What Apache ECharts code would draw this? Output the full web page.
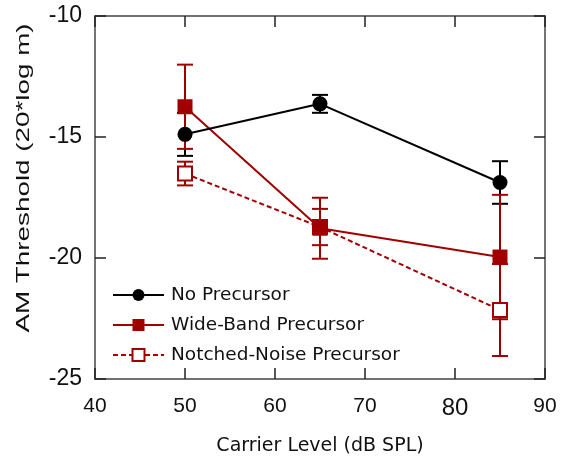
<!DOCTYPE html>
<html>
<head>
<meta charset="utf-8">
<script src="https://cdn.jsdelivr.net/npm/echarts@6/dist/echarts.min.js"></script>
<style>
  html, body { margin: 0; padding: 0; background: #fff; }
  #chart { width: 561px; height: 461px; }
</style>
</head>
<body>
<div id="chart"></div>
<script>
// Carrier levels (dB SPL)
const levels = [50, 65, 85];

// Mean AM thresholds (20*log m) and error half-widths per condition
const noPrecursor = [-14.89, -13.63, -16.88];
const noPrecursorErr = [0.89, 0.37, 0.88];

const wideBand = [-13.75, -18.77, -19.96];
const wideBandErr = [1.74, 1.26, 2.57];

const notchedNoise = [-16.51, -18.72, -22.15];
const notchedNoiseErr = [0.49, 0.75, 1.9];

const xTicks = [40, 50, 60, 70, 80, 90];
const yTicks = [-25, -20, -15, -10];

const BLACK = '#000000';
const RED = '#a00000';

function pairs(ys) {
  return levels.map((x, i) => [x, ys[i]]);
}
function errData(ys, errs) {
  return levels.map((x, i) => [x, ys[i] - errs[i], ys[i] + errs[i]]);
}

// Vertical error bar with caps, drawn through the axis scales
function errorBarSeries(name, ys, errs, color) {
  return {
    type: 'custom',
    name: name + ' err',
    data: errData(ys, errs),
    z: 1,
    silent: true,
    encode: { x: 0, y: [1, 2] },
    renderItem: function (params, api) {
      const x = api.value(0);
      const lo = api.coord([x, api.value(1)]);
      const hi = api.coord([x, api.value(2)]);
      const half = 8;
      const style = { stroke: color, lineWidth: 2, fill: null };
      return {
        type: 'group',
        children: [
          { type: 'line', shape: { x1: lo[0], y1: lo[1], x2: hi[0], y2: hi[1] }, style: style },
          { type: 'line', shape: { x1: lo[0] - half, y1: lo[1], x2: lo[0] + half, y2: lo[1] }, style: style },
          { type: 'line', shape: { x1: hi[0] - half, y1: hi[1], x2: hi[0] + half, y2: hi[1] }, style: style }
        ]
      };
    }
  };
}

const frameColor = '#444444';
const tickLine = { color: '#222', width: 1.5 };

const chart = echarts.init(document.getElementById('chart'), null, { renderer: 'canvas' });

chart.setOption({
  animation: false,
  backgroundColor: '#ffffff',
  grid: { left: 95, right: 16, top: 16, bottom: 80, containLabel: false },
  legend: {
    orient: 'vertical',
    left: 112,
    top: 285.5,
    padding: 0,
    itemWidth: 51,
    itemHeight: 15,
    itemGap: 11,
    textStyle: { fontFamily: 'DejaVu Sans', fontSize: 18.5, color: '#111', padding: [0, 0, 0, 2] },
    data: ['No Precursor', 'Wide-Band Precursor', 'Notched-Noise Precursor']
  },
  xAxis: [
    {
      type: 'value', min: 40, max: 90, interval: 10,
      axisLine: { show: true, lineStyle: { color: frameColor, width: 1.5 } },
      axisTick: { show: true, inside: true, length: 11, lineStyle: tickLine },
      axisLabel: {
        margin: 17,
        fontFamily: 'Liberation Sans', fontSize: 21, color: '#111',
        formatter: v => !xTicks.includes(v) ? '' : (v === 80 ? '{big|80}' : String(v)),
        rich: { big: { fontFamily: 'Liberation Sans', fontSize: 24, color: '#111' } }
      },
      splitLine: { show: false },
      name: 'Carrier Level (dB SPL)',
      nameLocation: 'middle',
      nameGap: 58,
      nameTextStyle: { fontFamily: 'DejaVu Sans', fontSize: 19, color: '#111' }
    },
    {
      type: 'value', min: 40, max: 90, interval: 10, position: 'top',
      axisLine: { show: true, lineStyle: { color: frameColor, width: 1.5 } },
      axisTick: { show: true, inside: true, length: 11, lineStyle: tickLine },
      axisLabel: { show: false },
      splitLine: { show: false }
    }
  ],
  yAxis: [
    {
      type: 'value', min: -25, max: -10, interval: 5,
      axisLine: { show: true, lineStyle: { color: frameColor, width: 1.5 } },
      axisTick: { show: true, inside: true, length: 11, lineStyle: tickLine },
      axisLabel: {
        margin: 13,
        fontFamily: 'Liberation Sans', fontSize: 23, color: '#111',
        formatter: v => yTicks.includes(v) ? String(v) : ''
      },
      splitLine: { show: false }
    },
    {
      type: 'value', min: -25, max: -10, interval: 5, position: 'right',
      axisLine: { show: true, lineStyle: { color: frameColor, width: 1.5 } },
      axisTick: { show: true, inside: true, length: 11, lineStyle: tickLine },
      axisLabel: { show: false },
      splitLine: { show: false }
    }
  ],
  graphic: [
    {
      type: 'text',
      x: 24, y: 178,
      rotation: Math.PI / 2,
      scaleX: 1.45,
      style: {
        text: 'AM Threshold (20*log m)',
        fontFamily: 'Liberation Sans', fontSize: 19.2, fill: '#111',
        align: 'center', verticalAlign: 'middle'
      }
    }
  ],
  series: [
    errorBarSeries('No Precursor', noPrecursor, noPrecursorErr, BLACK),
    errorBarSeries('Wide-Band Precursor', wideBand, wideBandErr, RED),
    errorBarSeries('Notched-Noise Precursor', notchedNoise, notchedNoiseErr, RED),
    {
      type: 'line', name: 'Notched-Noise Precursor', data: pairs(notchedNoise), z: 3,
      symbol: 'rect', symbolSize: 14,
      lineStyle: { color: RED, width: 2, type: [5, 3] },
      itemStyle: { color: '#ffffff', borderColor: RED, borderWidth: 2 }
    },
    {
      type: 'line', name: 'Wide-Band Precursor', data: pairs(wideBand), z: 4,
      symbol: 'rect', symbolSize: 15,
      lineStyle: { color: RED, width: 2 },
      itemStyle: { color: RED, borderColor: RED, borderWidth: 0 }
    },
    {
      type: 'line', name: 'No Precursor', data: pairs(noPrecursor), z: 5,
      symbol: 'circle', symbolSize: 15,
      lineStyle: { color: BLACK, width: 2 },
      itemStyle: { color: BLACK, borderColor: BLACK, borderWidth: 0 }
    }
  ]
});
</script>
</body>
</html>
